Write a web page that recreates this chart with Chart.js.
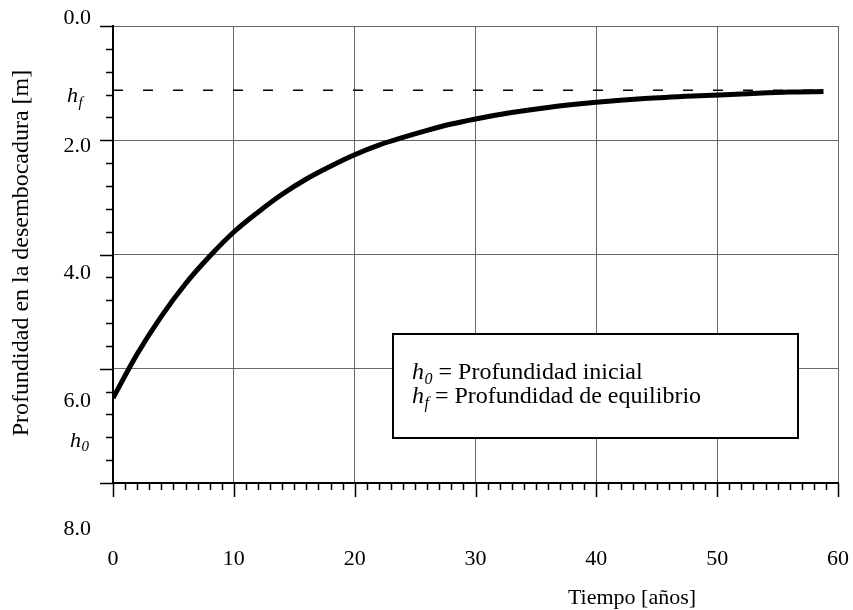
<!DOCTYPE html>
<html lang="es">
<head>
<meta charset="utf-8">
<title>Profundidad en la desembocadura</title>
<script src="https://cdn.jsdelivr.net/npm/chart.js@4.4.1/dist/chart.umd.min.js"></script>
<style>
  html, body { margin: 0; padding: 0; background: #fff; }
  #wrap { width: 853px; height: 610px; position: relative; }
</style>
</head>
<body>
<div id="wrap"><canvas id="myChart"></canvas></div>
<script>
// tiempo en años, profundidad en metros
const tiempo = [0, 2, 4, 6, 8, 10, 12, 14, 16, 18, 20, 22, 24, 26, 28, 30, 33, 36, 40, 44, 48, 52, 56, 58.8];
const profundidad = [5.95, 5.26, 4.67, 4.16, 3.73, 3.35, 3.04, 2.76, 2.52, 2.32, 2.14, 1.99, 1.87, 1.76, 1.66, 1.58, 1.48, 1.40, 1.32, 1.26, 1.22, 1.19, 1.16, 1.15];
const hEquilibrio = 1.13;
const hEquilibrioHasta = 59.2;

const xTicks = [0, 10, 20, 30, 40, 50, 60];
const yTicks = [0, 2, 4, 6, 8];
const yTickLabels = ["0.0", "2.0", "4.0", "6.0", "8.0"];
const leyenda = [
  ["0", "Profundidad inicial"],
  ["f", "Profundidad de equilibrio"],
];

const SERIF = '"Liberation Serif", "Times New Roman", serif';

// h en cursiva con subíndice; devuelve el ancho dibujado
function drawH(ctx, sub, x, y, size) {
  ctx.font = `italic ${size}px ${SERIF}`;
  ctx.fillText("h", x, y);
  const w = ctx.measureText("h").width;
  const s = Math.round(size * 0.68);
  ctx.font = `italic ${s}px ${SERIF}`;
  ctx.fillText(sub, x + w + 0.5, y + size * 0.2);
  return w + 0.5 + ctx.measureText(sub).width;
}

const decor = {
  id: "decor",
  afterDraw(chart) {
    const { ctx, chartArea: a } = chart;
    const { x, y, yv } = chart.scales;
    ctx.save();

    // marcas de los ejes
    ctx.strokeStyle = "#000";
    ctx.lineWidth = 1.5;
    ctx.beginPath();
    for (let t = 0; t <= 60; t++) {
      const px = Math.round(x.getPixelForValue(t)) + 0.5;
      ctx.moveTo(px, a.bottom);
      ctx.lineTo(px, a.bottom + (t % 10 === 0 ? 14 : 7));
    }
    for (let i = 0; i <= 20; i++) {
      const py = Math.round(y.getPixelForValue(i * 0.4)) + 0.5;
      ctx.moveTo(a.left, py);
      ctx.lineTo(a.left - (i % 5 === 0 ? 13 : 7), py);
    }
    ctx.stroke();

    ctx.fillStyle = "#000";
    ctx.font = `22px ${SERIF}`;

    // etiquetas del eje y
    ctx.textAlign = "right";
    ctx.textBaseline = "middle";
    yTicks.forEach((v, i) => {
      ctx.fillText(yTickLabels[i], a.left - 22, yv.getPixelForValue(v));
    });

    // etiquetas del eje x
    ctx.textAlign = "center";
    xTicks.forEach((v) => {
      ctx.fillText(String(v), x.getPixelForValue(v), a.bottom + 76);
    });

    // títulos
    ctx.fillText("Tiempo [años]", 632, a.bottom + 115);
    ctx.save();
    ctx.translate(22, 253);
    ctx.rotate(-Math.PI / 2);
    ctx.font = `24px ${SERIF}`;
    ctx.fillText("Profundidad en la desembocadura [m]", 0, 0);
    ctx.restore();

    // h_f y h_0 junto al eje
    ctx.textAlign = "left";
    ctx.textBaseline = "alphabetic";
    drawH(ctx, "f", 67, yv.getPixelForValue(hEquilibrio) + 12, 22);
    drawH(ctx, "0", 70, yv.getPixelForValue(profundidad[0]) + 49, 22);

    // recuadro de leyenda
    ctx.fillStyle = "#fff";
    ctx.fillRect(393, 334, 405, 104);
    ctx.strokeStyle = "#000";
    ctx.lineWidth = 2;
    ctx.strokeRect(393, 334, 405, 104);
    ctx.fillStyle = "#000";
    leyenda.forEach(([sub, txt], i) => {
      const base = 379 + i * 24;
      const w = drawH(ctx, sub, 412, base, 24);
      ctx.font = `24px ${SERIF}`;
      ctx.fillText(" = " + txt, 412 + w, base);
    });

    ctx.restore();
  },
};

const gridStyle = { color: "#666", lineWidth: 1, drawTicks: false };

new Chart(document.getElementById("myChart"), {
  type: "line",
  data: {
    datasets: [
      {
        data: tiempo.map((t, i) => ({ x: t, y: profundidad[i] })),
        yAxisID: "yv",
        borderColor: "#000",
        borderWidth: 5,
        pointRadius: 0,
        cubicInterpolationMode: "monotone",
      },
      {
        data: [
          { x: 0, y: hEquilibrio },
          { x: hEquilibrioHasta, y: hEquilibrio },
        ],
        yAxisID: "yv",
        borderColor: "#000",
        borderWidth: 1.5,
        borderDash: [10, 20],
        pointRadius: 0,
      },
    ],
  },
  options: {
    responsive: true,
    maintainAspectRatio: false,
    animation: false,
    layout: { padding: { left: 113, top: 26, right: 15, bottom: 127 } },
    plugins: {
      legend: { display: false },
      tooltip: { enabled: false },
    },
    scales: {
      x: {
        type: "linear",
        min: 0,
        max: 60,
        ticks: { display: false, stepSize: 10 },
        grid: gridStyle,
        border: { color: "#000", width: 2 },
      },
      y: {
        min: 0,
        max: 8,
        reverse: true,
        ticks: { display: false, stepSize: 2 },
        grid: gridStyle,
        border: { color: "#000", width: 2 },
      },
      yv: {
        display: false,
        min: 0.125,
        max: 7.28,
        reverse: true,
      },
    },
  },
  plugins: [decor],
});
</script>
</body>
</html>
